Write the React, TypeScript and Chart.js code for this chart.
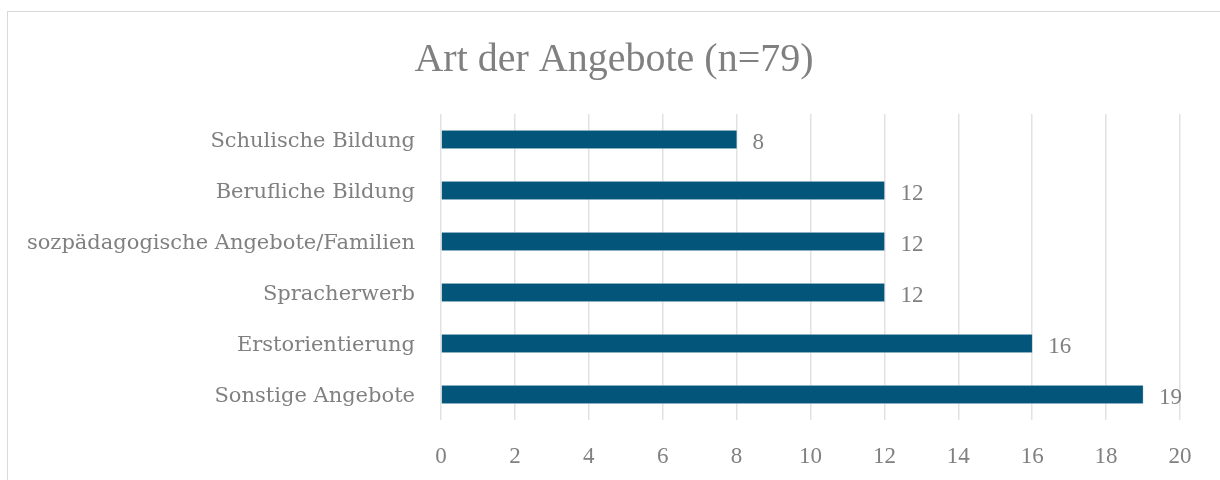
import React, { useEffect, useRef } from "react";
import { Chart, registerables } from "chart.js";

Chart.register(...registerables);

const categories = [
  "Schulische Bildung",
  "Berufliche Bildung",
  "sozpädagogische Angebote/Familien",
  "Spracherwerb",
  "Erstorientierung",
  "Sonstige Angebote",
];
const values = [8, 12, 12, 12, 16, 19];
const chartTitle = "Art der Angebote (n=79)";
const xMin = 0;
const xMax = 20;
const xStep = 2;

const TEXT = "#808080";
const LABEL_FONT = "'DejaVu Serif', serif";
const NUM_FONT = "'Liberation Serif', serif";

export default function App() {
  const ref = useRef<HTMLCanvasElement | null>(null);

  useEffect(() => {
    document.body.style.margin = "0";
    const canvas = ref.current;
    if (!canvas) return;

    const framePlugin = {
      id: "frame",
      beforeDraw(chart: any) {
        const ctx = chart.ctx;
        ctx.save();
        ctx.fillStyle = "#ffffff";
        ctx.fillRect(0, 0, chart.width, chart.height);
        ctx.strokeStyle = "#d9d9d9";
        ctx.lineWidth = 1;
        ctx.strokeRect(7.5, 11.5, 1300, 600);
        ctx.fillStyle = TEXT;
        ctx.font = `40px ${NUM_FONT}`;
        ctx.textAlign = "center";
        ctx.textBaseline = "alphabetic";
        ctx.fillText(chartTitle, 614, 71);
        ctx.restore();
      },
    };

    const valuePlugin = {
      id: "values",
      afterDatasetsDraw(chart: any) {
        const ctx = chart.ctx;
        const meta = chart.getDatasetMeta(0);
        ctx.save();
        ctx.fillStyle = TEXT;
        ctx.font = `23px ${NUM_FONT}`;
        ctx.textAlign = "left";
        ctx.textBaseline = "middle";
        meta.data.forEach((bar: any, i: number) => {
          ctx.fillText(String(values[i]), bar.x + 16, bar.y + 3);
        });
        ctx.restore();
      },
    };

    const chart = new Chart(canvas, {
      type: "bar",
      data: {
        labels: categories,
        datasets: [
          {
            data: values,
            backgroundColor: "#03567a",
            borderColor: "#6f9db3",
            borderWidth: 0.6,
            borderSkipped: false,
            barThickness: 18,
          },
        ],
      },
      options: {
        indexAxis: "y",
        animation: false,
        responsive: false,
        maintainAspectRatio: false,
        layout: { padding: { top: 114, right: 40, bottom: 0, left: 0 } },
        plugins: {
          legend: { display: false },
          title: { display: false },
          tooltip: { enabled: false },
        },
        scales: {
          x: {
            min: xMin,
            max: xMax,
            afterFit(scale: any) {
              scale.height = 60;
            },
            ticks: {
              stepSize: xStep,
              color: TEXT,
              font: { family: NUM_FONT, size: 23 },
              padding: 23,
            },
            grid: { color: "#e2e2e2", lineWidth: 1.5, drawTicks: false },
            border: { display: false },
          },
          y: {
            afterFit(scale: any) {
              scale.width = 441;
            },
            ticks: {
              color: TEXT,
              font: { family: LABEL_FONT, size: 21 },
              padding: 26,
              labelOffset: 2,
            },
            grid: { display: false, drawTicks: false },
            border: { display: false },
          },
        },
      },
      plugins: [framePlugin, valuePlugin],
    } as any);

    return () => chart.destroy();
  }, []);

  return (
    <div style={{ width: 1220, height: 480, position: "relative" }}>
      <canvas ref={ref} width={1220} height={480} style={{ display: "block" }} />
    </div>
  );
}
